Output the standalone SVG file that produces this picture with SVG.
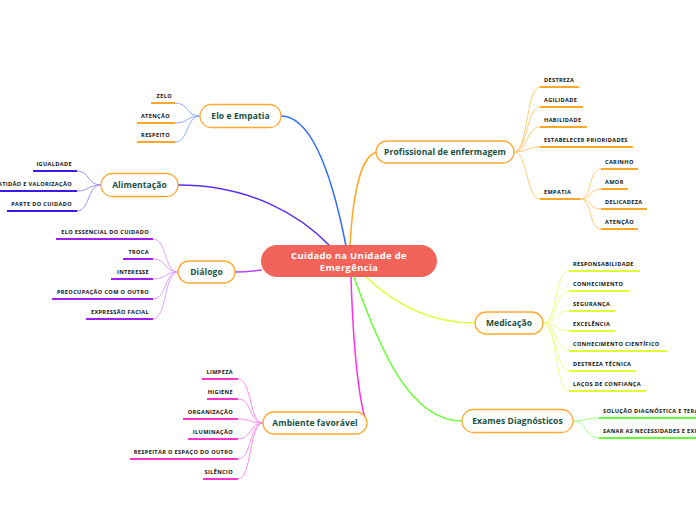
<svg xmlns="http://www.w3.org/2000/svg" width="696" height="520" viewBox="0 0 696 520">
<style>
.bg{fill:#ffffff}
.main rect{fill:#ffffff;stroke:#FFA931;stroke-width:1.3}
.main text{font-family:"Open Sans","Noto Sans",sans-serif;font-weight:700;font-size:8.5px;fill:#17503F;text-anchor:middle;letter-spacing:0.1px}
.center rect{fill:#F2645A}
.center text{font-family:"Open Sans","Noto Sans",sans-serif;font-weight:700;font-size:9.5px;fill:#ffffff;text-anchor:middle;letter-spacing:0.3px}
.leaf text{font-family:"Open Sans","Noto Sans",sans-serif;font-weight:700;font-size:5.6px;fill:#111111;letter-spacing:0.35px}
.leaf .l{text-anchor:end}
.leaf line{stroke-width:2;fill:none}
.conn path{fill:none}
.m{stroke-width:1.5}
.s{stroke-width:1}
</style>
<rect class="bg" x="0" y="0" width="696" height="520"/>

<g id="connectors" class="conn">
  <!-- main branches -->
  <path class="m" stroke="#3169FF" d="M281,116 C315,116 335,190 346,246"/>
  <path class="m" stroke="#5A2CF5" d="M178,185 C250,185 300,215 330,246"/>
  <path class="m" stroke="#B447FF" d="M235,272 C248,272 252,271 262,270"/>
  <path class="m" stroke="#FF2EE6" d="M351,277 C353,340 358,395 366,422"/>
  <path class="m" stroke="#FFA726" d="M377,152 C362,155 353,190 350,246"/>
  <path class="m" stroke="#DDFF33" d="M365,276 C395,305 430,323 475,323"/>
  <path class="m" stroke="#66FF33" d="M354,277 C380,350 410,421 462,421"/>

  <!-- Elo e Empatia leaves -->
  <g class="s" stroke="#8FAAFF">
    <path d="M200,116 C186,116 189,103 175,103"/>
    <path d="M200,116 C186,116 189,123 175,123"/>
    <path d="M200,116 C186,116 189,142 175,142"/>
  </g>
  <!-- Alimentação leaves -->
  <g class="s" stroke="#A48EFF">
    <path d="M101,185 C87,185 90,171 77,171"/>
    <path d="M101,185 C87,185 90,191 77,191"/>
    <path d="M101,185 C87,185 90,211 77,211"/>
  </g>
  <!-- Diálogo leaves -->
  <g class="s" stroke="#D9A0FF">
    <path d="M178,272 C164,272 167,239 153,239"/>
    <path d="M178,272 C164,272 167,259 153,259"/>
    <path d="M178,272 C164,272 167,279 153,279"/>
    <path d="M178,272 C164,272 167,299 153,299"/>
    <path d="M178,272 C164,272 167,319 153,319"/>
  </g>
  <!-- Ambiente leaves -->
  <g class="s" stroke="#FF8CEC">
    <path d="M263,423 C249,423 252,379 238,379"/>
    <path d="M263,423 C249,423 252,399 238,399"/>
    <path d="M263,423 C249,423 252,419 238,419"/>
    <path d="M263,423 C249,423 252,439 238,439"/>
    <path d="M263,423 C249,423 252,459 238,459"/>
    <path d="M263,423 C249,423 252,479 238,479"/>
  </g>
  <!-- Profissional leaves -->
  <g class="s" stroke="#FFCB7A">
    <path d="M514,152 C528,152 526,87 540,87"/>
    <path d="M514,152 C528,152 526,107 540,107"/>
    <path d="M514,152 C528,152 526,127 540,127"/>
    <path d="M514,152 C528,152 526,147 540,147"/>
    <path d="M514,152 C528,152 526,199 540,199"/>
    <path d="M580,199 C593,199 588,169 601,169"/>
    <path d="M580,199 C593,199 588,189 601,189"/>
    <path d="M580,199 C593,199 588,209 601,209"/>
    <path d="M580,199 C593,199 588,229 601,229"/>
  </g>
  <!-- Medicação leaves -->
  <g class="s" stroke="#EAFF8A">
    <path d="M543,323 C557,323 555,271 569,271"/>
    <path d="M543,323 C557,323 555,291 569,291"/>
    <path d="M543,323 C557,323 555,311 569,311"/>
    <path d="M543,323 C557,323 555,331 569,331"/>
    <path d="M543,323 C557,323 555,351 569,351"/>
    <path d="M543,323 C557,323 555,371 569,371"/>
    <path d="M543,323 C557,323 555,391 569,391"/>
  </g>
  <!-- Exames leaves -->
  <g class="s" stroke="#9CFF7A">
    <path d="M573,421 C587,421 585,418 599,418"/>
    <path d="M573,421 C587,421 585,438 599,438"/>
  </g>
</g>

<!-- Central node -->
<g id="center" class="center">
  <rect x="261" y="245" width="176" height="32" rx="16"/>
  <text x="349" y="259">Cuidado na Unidade de</text>
  <text x="349" y="270.5">Emergência</text>
</g>

<!-- Main nodes -->
<g id="elo-empatia" class="main">
  <rect x="200" y="104.5" width="81" height="23" rx="11.5"/>
  <text x="240.5" y="119">Elo e Empatia</text>
</g>
<g id="alimentacao" class="main">
  <rect x="101" y="173.5" width="77" height="23" rx="11.5"/>
  <text x="139.5" y="188">Alimentação</text>
</g>
<g id="dialogo" class="main">
  <rect x="178" y="261" width="57" height="22" rx="11"/>
  <text x="206.5" y="275">Diálogo</text>
</g>
<g id="ambiente" class="main">
  <rect x="263" y="412" width="104" height="22" rx="11"/>
  <text x="315" y="426">Ambiente favorável</text>
</g>
<g id="profissional" class="main">
  <rect x="376" y="141" width="138" height="22" rx="11"/>
  <text x="445" y="155">Profissional de enfermagem</text>
</g>
<g id="medicacao" class="main">
  <rect x="475" y="312" width="68" height="22" rx="11"/>
  <text x="509" y="326">Medicação</text>
</g>
<g id="exames" class="main">
  <rect x="462" y="409.5" width="111" height="23" rx="11.5"/>
  <text x="517.5" y="424">Exames Diagnósticos</text>
</g>

<!-- Elo e Empatia leaves -->
<g id="leaf-zelo" class="leaf"><line x1="151" y1="103" x2="175" y2="103" stroke="#FFA726"/><text class="l" x="172" y="98">ZELO</text></g>
<g id="leaf-atencao1" class="leaf"><line x1="137" y1="123" x2="175" y2="123" stroke="#FFA726"/><text class="l" x="170" y="118">ATENÇÃO</text></g>
<g id="leaf-respeito" class="leaf"><line x1="137" y1="142" x2="175" y2="142" stroke="#FFA726"/><text class="l" x="170" y="137">RESPEITO</text></g>

<!-- Alimentação leaves -->
<g id="leaf-igualdade" class="leaf"><line x1="33" y1="171" x2="77" y2="171" stroke="#3A1AE6"/><text class="l" x="72" y="166">IGUALDADE</text></g>
<g id="leaf-gratidao" class="leaf"><line x1="0" y1="191" x2="77" y2="191" stroke="#3A1AE6"/><text class="l" x="72" y="186">ATIDÃO E VALORIZAÇÃO</text></g>
<g id="leaf-parte" class="leaf"><line x1="7" y1="211" x2="77" y2="211" stroke="#3A1AE6"/><text class="l" x="72" y="206">PARTE DO CUIDADO</text></g>

<!-- Diálogo leaves -->
<g id="leaf-elo-essencial" class="leaf"><line x1="56" y1="239" x2="153" y2="239" stroke="#A020F0"/><text class="l" x="149" y="234">ELO ESSENCIAL DO CUIDADO</text></g>
<g id="leaf-troca" class="leaf"><line x1="123" y1="259" x2="153" y2="259" stroke="#A020F0"/><text class="l" x="149" y="254">TROCA</text></g>
<g id="leaf-interesse" class="leaf"><line x1="111" y1="279" x2="153" y2="279" stroke="#A020F0"/><text class="l" x="149" y="274">INTERESSE</text></g>
<g id="leaf-preocupacao" class="leaf"><line x1="52" y1="299" x2="153" y2="299" stroke="#A020F0"/><text class="l" x="149" y="294">PREOCUPAÇÃO COM O OUTRO</text></g>
<g id="leaf-expressao" class="leaf"><line x1="86" y1="319" x2="153" y2="319" stroke="#A020F0"/><text class="l" x="149" y="314">EXPRESSÃO FACIAL</text></g>

<!-- Ambiente leaves -->
<g id="leaf-limpeza" class="leaf"><line x1="202" y1="379" x2="238" y2="379" stroke="#FF33CC"/><text class="l" x="233" y="374">LIMPEZA</text></g>
<g id="leaf-higiene" class="leaf"><line x1="207" y1="399" x2="238" y2="399" stroke="#FF33CC"/><text class="l" x="233" y="394">HIGIENE</text></g>
<g id="leaf-organizacao" class="leaf"><line x1="183" y1="419" x2="238" y2="419" stroke="#FF33CC"/><text class="l" x="233" y="414">ORGANIZAÇÃO</text></g>
<g id="leaf-iluminacao" class="leaf"><line x1="188" y1="439" x2="238" y2="439" stroke="#FF33CC"/><text class="l" x="233" y="434">ILUMINAÇÃO</text></g>
<g id="leaf-respeitar" class="leaf"><line x1="130" y1="459" x2="238" y2="459" stroke="#FF33CC"/><text class="l" x="233" y="454">RESPEITAR O ESPAÇO DO OUTRO</text></g>
<g id="leaf-silencio" class="leaf"><line x1="203" y1="479" x2="238" y2="479" stroke="#FF33CC"/><text class="l" x="233" y="474">SILÊNCIO</text></g>

<!-- Profissional leaves -->
<g id="leaf-destreza" class="leaf"><line x1="540" y1="87" x2="579" y2="87" stroke="#FFA726"/><text x="544" y="82">DESTREZA</text></g>
<g id="leaf-agilidade" class="leaf"><line x1="540" y1="107" x2="583" y2="107" stroke="#FFA726"/><text x="544" y="102">AGILIDADE</text></g>
<g id="leaf-habilidade" class="leaf"><line x1="540" y1="127" x2="587" y2="127" stroke="#FFA726"/><text x="544" y="122">HABILIDADE</text></g>
<g id="leaf-estabelecer" class="leaf"><line x1="540" y1="147" x2="633" y2="147" stroke="#FFA726"/><text x="544" y="142">ESTABELECER PRIORIDADES</text></g>
<g id="leaf-empatia" class="leaf"><line x1="540" y1="199" x2="580" y2="199" stroke="#FFA726"/><text x="544" y="194">EMPATIA</text></g>
<g id="leaf-carinho" class="leaf"><line x1="601" y1="169" x2="638" y2="169" stroke="#FFA726"/><text x="605" y="164">CARINHO</text></g>
<g id="leaf-amor" class="leaf"><line x1="601" y1="189" x2="628" y2="189" stroke="#FFA726"/><text x="605" y="184">AMOR</text></g>
<g id="leaf-delicadeza" class="leaf"><line x1="601" y1="209" x2="647" y2="209" stroke="#FFA726"/><text x="605" y="204">DELICADEZA</text></g>
<g id="leaf-atencao2" class="leaf"><line x1="601" y1="229" x2="638" y2="229" stroke="#FFA726"/><text x="605" y="224">ATENÇÃO</text></g>

<!-- Medicação leaves -->
<g id="leaf-responsabilidade" class="leaf"><line x1="569" y1="271" x2="640" y2="271" stroke="#DDFF33"/><text x="573" y="266">RESPONSABILIDADE</text></g>
<g id="leaf-conhecimento" class="leaf"><line x1="569" y1="291" x2="629" y2="291" stroke="#DDFF33"/><text x="573" y="286">CONHECIMENTO</text></g>
<g id="leaf-seguranca" class="leaf"><line x1="569" y1="311" x2="615" y2="311" stroke="#DDFF33"/><text x="573" y="306">SEGURANÇA</text></g>
<g id="leaf-excelencia" class="leaf"><line x1="569" y1="331" x2="615" y2="331" stroke="#DDFF33"/><text x="573" y="326">EXCELÊNCIA</text></g>
<g id="leaf-conhecimento-cientifico" class="leaf"><line x1="569" y1="351" x2="667" y2="351" stroke="#DDFF33"/><text x="573" y="346">CONHECIMENTO CIENTÍFICO</text></g>
<g id="leaf-destreza-tecnica" class="leaf"><line x1="569" y1="371" x2="636" y2="371" stroke="#DDFF33"/><text x="573" y="366">DESTREZA TÉCNICA</text></g>
<g id="leaf-lacos" class="leaf"><line x1="569" y1="391" x2="646" y2="391" stroke="#DDFF33"/><text x="573" y="386">LAÇOS DE CONFIANÇA</text></g>

<!-- Exames leaves -->
<g id="leaf-solucao" class="leaf"><line x1="599" y1="418" x2="696" y2="418" stroke="#66FF33"/><text x="603" y="413">SOLUÇÃO DIAGNÓSTICA E TERA</text></g>
<g id="leaf-sanar" class="leaf"><line x1="599" y1="438" x2="696" y2="438" stroke="#66FF33"/><text x="603" y="433">SANAR AS NECESSIDADES E EXP</text></g>
</svg>
